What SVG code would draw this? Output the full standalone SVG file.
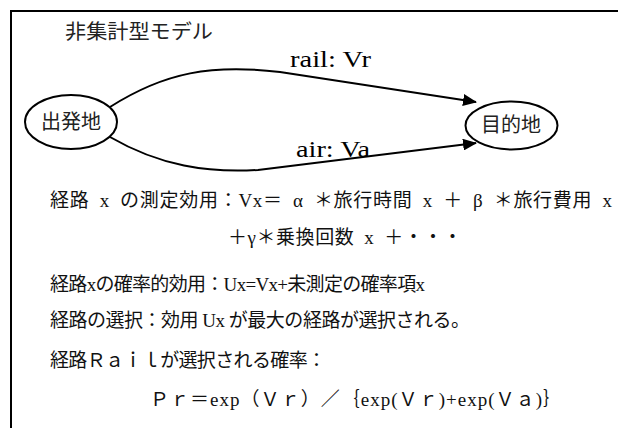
<svg xmlns="http://www.w3.org/2000/svg" width="618" height="428" viewBox="0 0 618 428">
<style>
.frame{fill:none;stroke:#000;stroke-width:2}
.node{fill:#fff;stroke:#000;stroke-width:2}
.edge{fill:none;stroke:#000;stroke-width:2}
.lbl{font-family:"Noto Sans CJK JP",sans-serif;font-size:20px;fill:#222}
.elbl{font-family:"Liberation Serif",serif;font-size:23px;fill:#000}
.body{font-family:"Liberation Serif","Noto Sans CJK JP",serif;font-size:19px;fill:#111}
</style>
<defs>
<marker id="arr" markerUnits="userSpaceOnUse" markerWidth="14" markerHeight="12" refX="13" refY="6" orient="auto">
<path d="M0,0 L14,6 L0,12 z" fill="#000"/>
</marker>
</defs>
<rect width="618" height="428" fill="#fff"/>
<path class="frame" d="M11,428 V11 H618"/>
<text class="lbl" x="65" y="39" font-size="21" textLength="148" lengthAdjust="spacingAndGlyphs">非集計型モデル</text>
<g id="edges">
<path class="edge" d="M110,107 C165,72 212,64 280,72 L476,102" marker-end="url(#arr)"/>
<text class="elbl" x="290" y="67" textLength="81" lengthAdjust="spacingAndGlyphs">rail: Vr</text>
<path class="edge" d="M110,137 C160,166 208,173 258,170 L476,143" marker-end="url(#arr)"/>
<text class="elbl" x="296" y="157" textLength="74" lengthAdjust="spacingAndGlyphs">air: Va</text>
</g>
<g id="origin">
<ellipse class="node" cx="71" cy="122" rx="46" ry="27"/>
<text class="lbl" x="71" y="129" text-anchor="middle">出発地</text>
</g>
<g id="destination">
<ellipse class="node" cx="511.5" cy="125.5" rx="46" ry="24"/>
<text class="lbl" x="511" y="132" text-anchor="middle">目的地</text>
</g>
<g id="formulas">
<text class="body" x="50" y="207" textLength="562" lengthAdjust="spacing">経路&#8194;x&#8194;の測定効用：Vx＝&#8194;α&#8194;＊旅行時間&#8194;x&#8194;＋&#8194;β&#8194;＊旅行費用&#8194;x</text>
<text class="body" x="228" y="244" textLength="234" lengthAdjust="spacing">＋γ＊乗換回数&#8194;x&#8194;＋・・・</text>
<text class="body" x="50" y="291" textLength="375" lengthAdjust="spacing">経路xの確率的効用：Ux=Vx+未測定の確率項x</text>
<text class="body" x="50" y="327" textLength="420" lengthAdjust="spacing">経路の選択：効用 Ux が最大の経路が選択される。</text>
<text class="body" x="50" y="367" textLength="276" lengthAdjust="spacing">経路Ｒａｉｌが選択される確率：</text>
<text class="body" x="150" y="406" textLength="412" lengthAdjust="spacing">Ｐｒ＝exp（Ｖｒ）／｛exp(Ｖｒ)+exp(Ｖａ)｝</text>
</g>
</svg>
